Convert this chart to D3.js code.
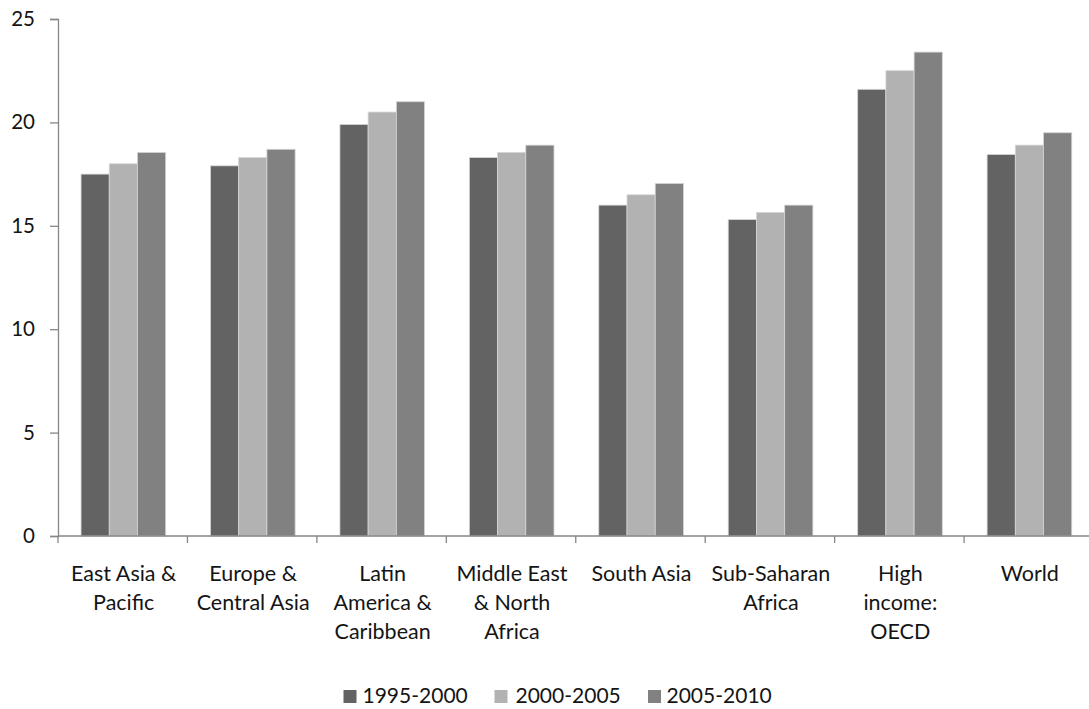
<!DOCTYPE html>
<html>
<head>
<meta charset="utf-8">
<script src="https://cdn.jsdelivr.net/npm/d3@7/dist/d3.min.js"></script>
<style>
  html, body { margin: 0; padding: 0; background: #ffffff; }
  svg { display: block; }
  text { font-family: Lato, "Open Sans", sans-serif; fill: #141414; }
</style>
</head>
<body>
<svg id="chart" width="1089" height="709"></svg>
<script>
// ---- data ----
const categories = [
  "East Asia & Pacific",
  "Europe & Central Asia",
  "Latin America & Caribbean",
  "Middle East & North Africa",
  "South Asia",
  "Sub-Saharan Africa",
  "High income: OECD",
  "World"
];
const categoryLabelLines = [
  ["East Asia &", "Pacific"],
  ["Europe &", "Central Asia"],
  ["Latin", "America &", "Caribbean"],
  ["Middle East", "& North", "Africa"],
  ["South Asia"],
  ["Sub-Saharan", "Africa"],
  ["High", "income:", "OECD"],
  ["World"]
];
const seriesNames = ["1995-2000", "2000-2005", "2005-2010"];
const values1995_2000 = [17.5, 17.9, 19.9, 18.3, 16.0, 15.3, 21.6, 18.45];
const values2000_2005 = [18.0, 18.3, 20.5, 18.55, 16.5, 15.65, 22.5, 18.9];
const values2005_2010 = [18.55, 18.7, 21.0, 18.9, 17.05, 16.0, 23.4, 19.5];
const yTicks = [0, 5, 10, 15, 20, 25];
const seriesColors = ["#636363", "#b2b2b2", "#818181"];

const seriesValues = [values1995_2000, values2000_2005, values2005_2010];

// ---- layout ----
const svg = d3.select("#chart");
const plotLeft = 58, plotRight = 1093.5, plotTop = 19, plotBottom = 536;

const x0 = d3.scaleBand().domain(categories).range([plotLeft, plotRight]).paddingInner(0).paddingOuter(0);
const bw = x0.bandwidth();
const x1 = d3.scaleBand().domain(seriesNames).range([bw * 0.178, bw * 0.832]).padding(0);
const y = d3.scaleLinear().domain([0, 25]).range([plotBottom, plotTop]);

// bars
const g = svg.append("g");
categories.forEach((c, ci) => {
  seriesNames.forEach((s, si) => {
    const v = seriesValues[si][ci];
    g.append("rect")
      .attr("x", x0(c) + x1(s))
      .attr("y", y(v))
      .attr("width", x1.bandwidth())
      .attr("height", y(0) - y(v))
      .attr("fill", seriesColors[si])
      .attr("stroke", "#d6d6d6")
      .attr("stroke-width", 0.8);
  });
});

// y axis
const yAxis = d3.axisLeft(y).tickValues(yTicks).tickSize(8).tickPadding(15).tickFormat(d3.format("d"));
const yg = svg.append("g").attr("transform", `translate(${plotLeft},0)`).call(yAxis);
yg.select(".domain").attr("stroke", "#868686").attr("stroke-width", 1.3);
yg.selectAll(".tick line").attr("stroke", "#868686").attr("stroke-width", 1.3);
yg.selectAll(".tick text").attr("font-size", 20.5).attr("font-family", "Lato, sans-serif").attr("fill", "#141414");

// x axis (ticks between categories)
const xAxisG = svg.append("g");
xAxisG.append("line")
  .attr("x1", plotLeft).attr("x2", plotRight)
  .attr("y1", y(0)).attr("y2", y(0))
  .attr("stroke", "#868686").attr("stroke-width", 1.3);
const boundaries = categories.map(c => x0(c)).concat([x0(categories[categories.length - 1]) + bw]);
xAxisG.selectAll("line.tk").data(boundaries).enter().append("line")
  .attr("class", "tk")
  .attr("x1", d => d).attr("x2", d => d)
  .attr("y1", y(0)).attr("y2", y(0) + 7)
  .attr("stroke", "#868686").attr("stroke-width", 1.3);

// category labels
categories.forEach((c, ci) => {
  const t = xAxisG.append("text")
    .attr("x", x0(c) + bw / 2 + 1)
    .attr("y", 581)
    .attr("text-anchor", "middle")
    .attr("font-size", 21.5);
  categoryLabelLines[ci].forEach((line, li) => {
    t.append("tspan").attr("x", x0(c) + bw / 2 + 1).attr("y", 581 + li * 29).text(line);
  });
});

// legend
const legendItems = [
  { sq: 343.5, tx: 362.5 },
  { sq: 494.5, tx: 515.5 },
  { sq: 648, tx: 666.5 }
];
const lg = svg.append("g");
seriesNames.forEach((s, si) => {
  lg.append("rect")
    .attr("x", legendItems[si].sq).attr("y", 690)
    .attr("width", 13).attr("height", 13)
    .attr("fill", seriesColors[si]);
  lg.append("text")
    .attr("x", legendItems[si].tx).attr("y", 703)
    .attr("font-size", 21)
    .text(s);
});
</script>
</body>
</html>
